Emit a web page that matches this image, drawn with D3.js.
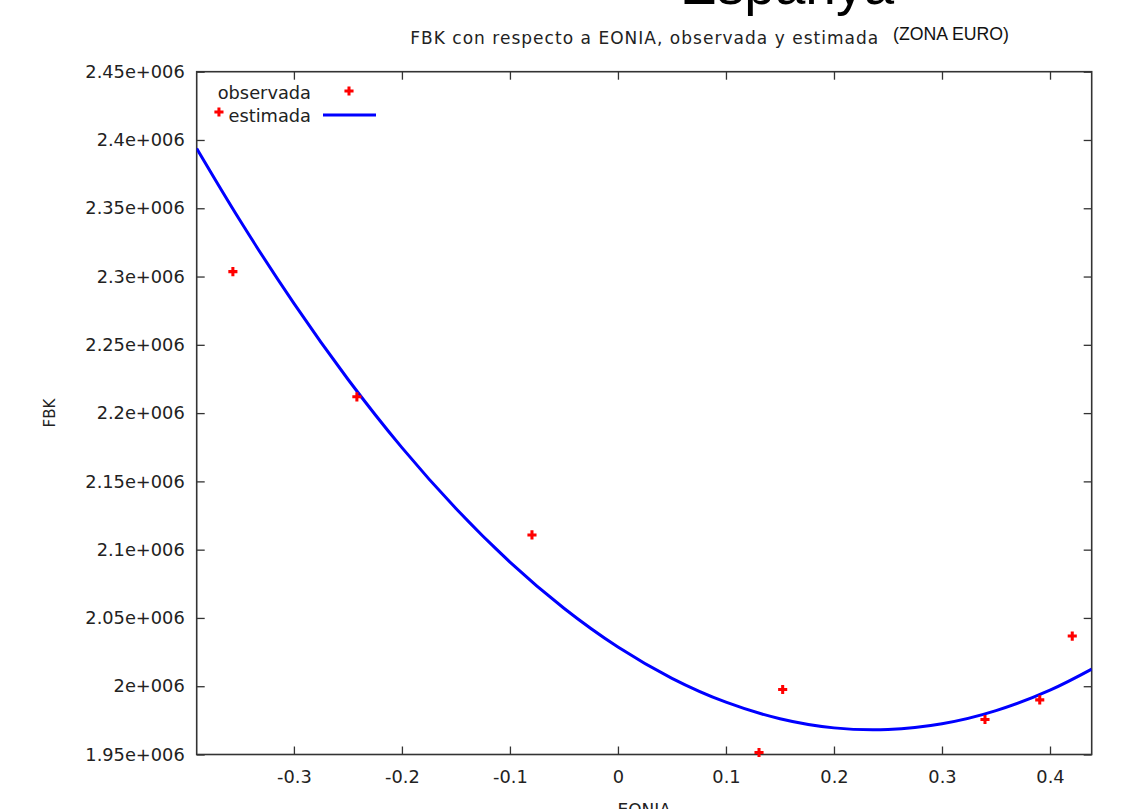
<!DOCTYPE html>
<html>
<head>
<meta charset="utf-8">
<script src="https://cdn.jsdelivr.net/npm/d3@7"></script>
<style>
  html, body { margin: 0; padding: 0; background: #fff; }
  svg { display: block; }
</style>
</head>
<body>
<svg id="chart" width="1123" height="809"></svg>
<script>
// ---- data ----
const obsEonia = [-0.3694, -0.3565, -0.2417, -0.0796, 0.1306, 0.1525, 0.3398, 0.3905, 0.4206];
const obsFbk   = [2420500, 2303600, 2211900, 2110800, 1951500, 1997600, 1975600, 1990000, 2036700];

const estEonia = [-0.39, -0.35, -0.3, -0.25, -0.2, -0.15, -0.1, -0.05, 0, 0.05, 0.1, 0.15, 0.2, 0.25, 0.3, 0.35, 0.4, 0.4386];
const estFbk   = [2393800, 2341200, 2280300, 2224800, 2174700, 2130100, 2090900, 2057100, 2028700, 2005800, 1988300, 1976200, 1969500, 1968300, 1972500, 1982100, 1997100, 2012500];

const xTicks = [-0.3, -0.2, -0.1, 0, 0.1, 0.2, 0.3, 0.4];
const yTicks = [1950000, 2000000, 2050000, 2100000, 2150000, 2200000, 2250000, 2300000, 2350000, 2400000, 2450000];
const yTickLabels = ["1.95e+006", "2e+006", "2.05e+006", "2.1e+006", "2.15e+006", "2.2e+006", "2.25e+006", "2.3e+006", "2.35e+006", "2.4e+006", "2.45e+006"];
const xTickLabels = ["-0.3", "-0.2", "-0.1", "0", "0.1", "0.2", "0.3", "0.4"];

const legendLabels = ["observada", "estimada"];
const titleMain = "Espanya";
const subtitle = "FBK con respecto a EONIA, observada y estimada";
const zoneLabel = "(ZONA EURO)";
const xLabel = "EONIA";
const yLabel = "FBK";

// ---- layout ----
const svg = d3.select("#chart");
const L = 196.7, R = 1091.7, T = 71.7, B = 754.5;
const font = "'DejaVu Sans', Verdana, sans-serif";
const axisColor = "#333";
const textColor = "#222";
const labelSize = 17.8;

const x = d3.scaleLinear().domain([-0.39, 0.4386]).range([L, R]);
const y = d3.scaleLinear().domain([1950000, 2450000]).range([B, T]);

// titles
svg.append("text").attr("x", 787).attr("y", 4).attr("text-anchor", "middle")
  .attr("font-family", "'Liberation Sans', Arial, sans-serif").attr("font-size", 55)
  .attr("fill", "#000").text(titleMain);
svg.append("text").attr("x", (L + R) / 2).attr("y", 44).attr("text-anchor", "middle")
  .attr("font-family", font).attr("font-size", 17)
  .attr("textLength", 468).attr("lengthAdjust", "spacing")
  .attr("fill", textColor).text(subtitle);
svg.append("text").attr("x", 893).attr("y", 40).attr("text-anchor", "start")
  .attr("font-family", "'Liberation Sans Narrow', 'Liberation Sans', Arial, sans-serif").attr("font-size", 17.5)
  .attr("textLength", 116).attr("lengthAdjust", "spacingAndGlyphs")
  .attr("fill", "#111").text(zoneLabel);

// axes with mirrored inward ticks
const tickLen = 8;
const axB = svg.append("g").attr("transform", `translate(0,${B})`)
  .call(d3.axisBottom(x).tickValues(xTicks).tickSize(-tickLen).tickPadding(16)
    .tickFormat((d, i) => xTickLabels[i]));
const axT = svg.append("g").attr("transform", `translate(0,${T})`)
  .call(d3.axisTop(x).tickValues(xTicks).tickSize(-tickLen).tickFormat(""));
const axL = svg.append("g").attr("transform", `translate(${L},0)`)
  .call(d3.axisLeft(y).tickValues(yTicks).tickSize(-tickLen).tickPadding(12)
    .tickFormat((d, i) => yTickLabels[i]));
const axR = svg.append("g").attr("transform", `translate(${R},0)`)
  .call(d3.axisRight(y).tickValues(yTicks).tickSize(-tickLen).tickFormat(""));

[axB, axT, axL, axR].forEach(g => {
  g.select(".domain").remove();
  g.selectAll(".tick line").attr("stroke", axisColor).attr("stroke-width", 1.3);
  g.selectAll(".tick text").attr("font-family", font).attr("font-size", labelSize).attr("fill", textColor);
});

// border
svg.append("rect").attr("x", L).attr("y", T).attr("width", R - L).attr("height", B - T)
  .attr("fill", "none").attr("stroke", axisColor).attr("stroke-width", 1.6);

// axis labels
svg.append("text").attr("transform", `translate(55,${(T + B) / 2}) rotate(-90)`)
  .attr("text-anchor", "middle").attr("font-family", font).attr("font-size", 15)
  .attr("fill", textColor).text(yLabel);
svg.append("text").attr("x", (L + R) / 2).attr("y", 816).attr("text-anchor", "middle")
  .attr("font-family", font).attr("font-size", 17).attr("fill", textColor).text(xLabel);

// estimated curve
svg.append("clipPath").attr("id", "plotclip")
  .append("rect").attr("x", L).attr("y", T).attr("width", R - L).attr("height", B - T);
const estData = estEonia.map((e, i) => ({ x: e, y: estFbk[i] }));
svg.append("path").datum(estData)
  .attr("clip-path", "url(#plotclip)")
  .attr("fill", "none").attr("stroke", "#0000ff").attr("stroke-width", 3)
  .attr("d", d3.line().x(d => x(d.x)).y(d => y(d.y)).curve(d3.curveNatural));

// observed points as plus markers
const plus = d3.symbol().type(d3.symbolCross).size(46);
const obsData = obsEonia.map((e, i) => ({ x: e, y: obsFbk[i] }));
svg.append("g").selectAll("path").data(obsData).join("path")
  .attr("transform", d => `translate(${x(d.x)},${y(d.y)})`)
  .attr("d", plus).attr("fill", "#ff0000");

// legend
const legendTextRight = 311;
svg.append("text").attr("x", legendTextRight).attr("y", 99).attr("text-anchor", "end")
  .attr("font-family", font).attr("font-size", labelSize).attr("fill", textColor).text(legendLabels[0]);
svg.append("path").attr("transform", "translate(349,91)").attr("d", plus).attr("fill", "#ff0000");
svg.append("text").attr("x", legendTextRight).attr("y", 122).attr("text-anchor", "end")
  .attr("font-family", font).attr("font-size", labelSize).attr("fill", textColor).text(legendLabels[1]);
svg.append("line").attr("x1", 323).attr("x2", 376).attr("y1", 115).attr("y2", 115)
  .attr("stroke", "#0000ff").attr("stroke-width", 3);
</script>
</body>
</html>
